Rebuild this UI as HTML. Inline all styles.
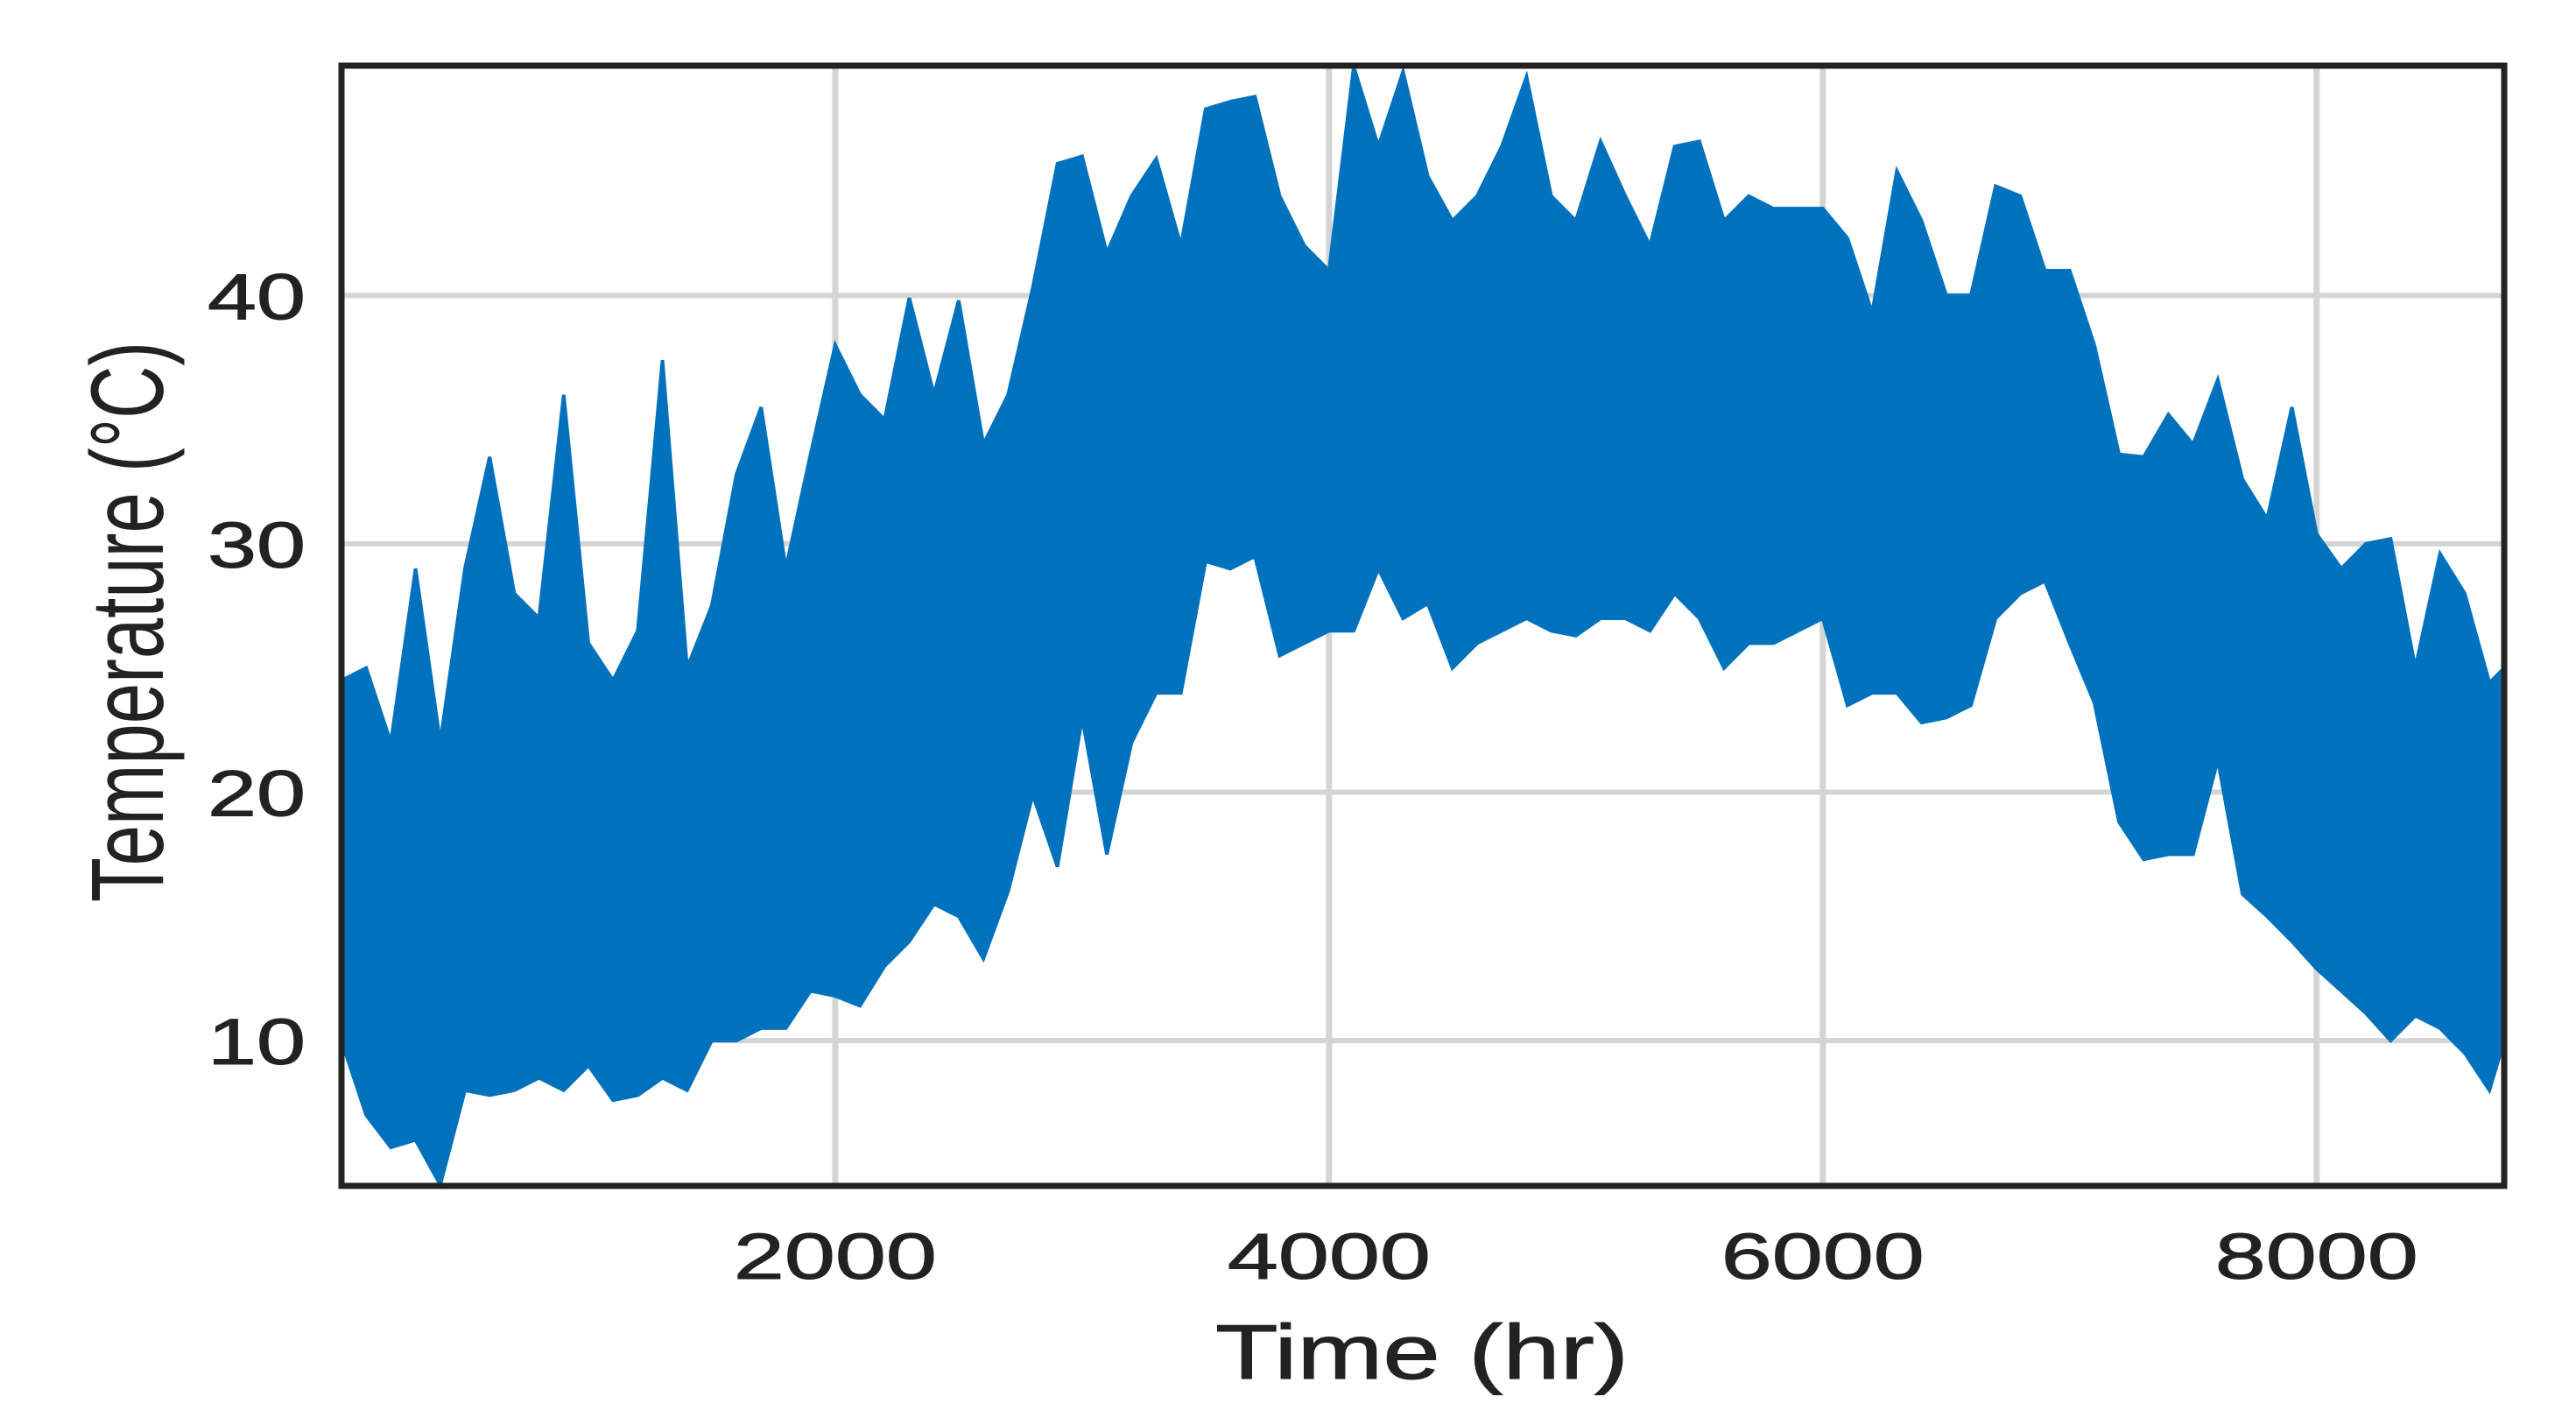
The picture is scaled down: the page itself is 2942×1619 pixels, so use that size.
<!DOCTYPE html>
<html><head><meta charset="utf-8"><style>
html,body{margin:0;padding:0;background:#fff;}
svg{display:block;}
text{font-family:"Liberation Sans",sans-serif;fill:#222;}
</style></head><body>
<svg id="chart" width="2942" height="1619" viewBox="0 0 2942 1619" xmlns="http://www.w3.org/2000/svg">
<rect width="2942" height="1619" fill="#fff"/>
<g id="grid"></g>
<g id="series"></g>
<g id="axes"></g>
<rect x="390" y="75" width="2470" height="1279" fill="none" stroke="#222" stroke-width="7"/>
<text x="1388" y="1574" textLength="472" lengthAdjust="spacingAndGlyphs" font-size="88" stroke="#222" stroke-width="1">Time (hr)</text>
<text transform="translate(186,1030) rotate(-90)" x="0" y="0" textLength="640" lengthAdjust="spacingAndGlyphs" font-size="118">Temperature (°C)</text>
</svg>
<script>
const hours = [0,100,200,300,400,500,600,700,800,900,1000,1100,1200,1300,1400,1500,1600,1700,1800,1900,2000,2100,2200,2300,2400,2500,2600,2700,2800,2900,3000,3100,3200,3300,3400,3500,3600,3700,3800,3900,4000,4100,4200,4300,4400,4500,4600,4700,4800,4900,5000,5100,5200,5300,5400,5500,5600,5700,5800,5900,6000,6100,6200,6300,6400,6500,6600,6700,6800,6900,7000,7100,7200,7300,7400,7500,7600,7700,7800,7900,8000,8100,8200,8300,8400,8500,8600,8700,8760];
const tempHigh = [24.5,25,22,29,22,29,33.5,28,27,36,26,24.5,26.5,37.4,25,27.5,32.8,35.5,29,33.6,38,36,35,39.9,36,39.8,34,36,40.3,45.3,45.6,41.7,44,45.5,42,47.5,47.8,48,44,42,41,49.2,46,49,44.8,43,44,46,48.8,44,43,46.2,44,42,46,46.2,43,44,43.5,43.5,43.5,42.3,39.3,45,43,40,40,44.4,44,41,41,38,33.6,33.5,35.2,34,36.6,32.6,31,35.5,30.4,29,30,30.2,25,29.6,28,24.4,25];
const tempLow = [10,7,5.7,6,4.2,8,7.8,8,8.5,8,9,7.6,7.8,8.5,8,10,10,10.5,10.5,12,11.8,11.4,13,14,15.5,15,13.3,16,19.9,17,23,17.5,22,24,24,29.3,29,29.5,25.5,26,26.5,26.5,29,27,27.6,25,26,26.5,27,26.5,26.3,27,27,26.5,28,27,25,26,26,26.5,27,23.5,24,24,22.8,23,23.5,27,28,28.5,26,23.6,18.8,17.3,17.5,17.5,21.3,15.9,15,14,12.9,12,11.1,10,11,10.5,9.5,8,10];
const xTicks = [2000,4000,6000,8000];
const yTicks = [10,20,30,40];

const NS = "http://www.w3.org/2000/svg";
const L=390,R=2860,T=75,B=1354, XMAX=8760, YMIN=4.15, YMAX=49.25;
const xs = v => L + (v/XMAX)*(R-L);
const ys = v => B - (v-YMIN)/(YMAX-YMIN)*(B-T);
function mk(tag, attrs){const e=document.createElementNS(NS,tag);for(const k in attrs)e.setAttribute(k,attrs[k]);return e;}
const grid=document.getElementById('grid'), axes=document.getElementById('axes'), series=document.getElementById('series');
xTicks.forEach(t=>{
  const ln=mk('line',{x1:xs(t),x2:xs(t),y1:T,y2:B,stroke:'#d4d4d4','stroke-width':7});
  
  
  grid.appendChild(ln);
  const tx=mk('text',{x:xs(t),y:1460,'text-anchor':'middle','font-size':74,textLength:232,lengthAdjust:'spacingAndGlyphs',stroke:'#222','stroke-width':1});
  tx.textContent=String(t);
  
  
  axes.appendChild(tx);
});
yTicks.forEach(t=>{
  const ln=mk('line',{x1:L,x2:R,y1:ys(t),y2:ys(t),stroke:'#d4d4d4','stroke-width':6});
  
  
  grid.appendChild(ln);
  const tx=mk('text',{x:349,y:ys(t)+27,'text-anchor':'end','font-size':74,textLength:112,lengthAdjust:'spacingAndGlyphs',stroke:'#222','stroke-width':1});
  tx.textContent=String(t);
  
  
  axes.appendChild(tx);
});
let pts=[];
for(let i=0;i<hours.length;i++) pts.push(xs(hours[i]).toFixed(1)+','+ys(tempHigh[i]).toFixed(1));
for(let i=hours.length-1;i>=0;i--) pts.push(xs(hours[i]).toFixed(1)+','+ys(tempLow[i]).toFixed(1));
const poly=mk('polygon',{points:pts.join(' '),fill:'#0072BD',stroke:'#0072BD','stroke-width':4,'stroke-linejoin':'miter'});


series.appendChild(poly);
</script>
</body></html>
